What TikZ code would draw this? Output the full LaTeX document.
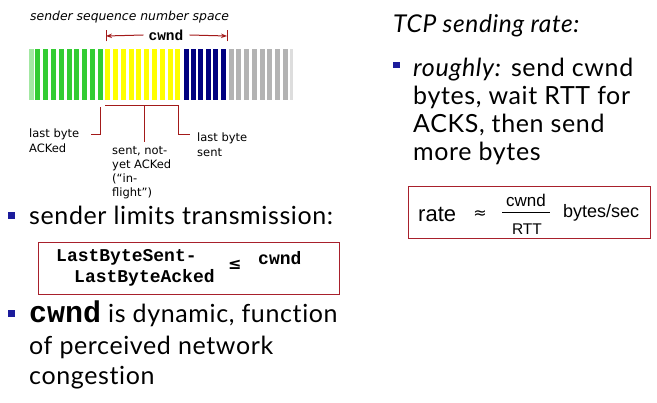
\documentclass[tikz,border=0pt]{standalone}
\usepackage{fontspec}
\usetikzlibrary{arrows.meta}
\setmainfont{Lato}[Ligatures=NoCommon, LetterSpace=2.5]
\newfontfamily\labelfont{DejaVu Sans}
\newfontfamily\codefont{Liberation Mono}
\newfontfamily\arialfont{Liberation Sans}
\definecolor{ackgreen}{HTML}{33CC33}
\definecolor{sentyellow}{HTML}{FFFF00}
\definecolor{usableblue}{HTML}{000080}
\definecolor{unusedgray}{HTML}{B3B3B3}
\definecolor{markred}{HTML}{A31A1A}
\definecolor{boxred}{HTML}{A8202C}
\definecolor{bulletblue}{HTML}{1C1C9C}
\tikzset{
  seqbar/.style={inner sep=0pt, minimum width=5pt, minimum height=51pt, anchor=north west},
  marker/.style={draw=markred, line width=1.6pt},
  thinmarker/.style={draw=markred, line width=1pt},
  smalllabel/.style={inner sep=0pt, anchor=base west, font=\labelfont\fontsize{11.5}{14}\selectfont},
  bigtext/.style={inner sep=0pt, anchor=base west, font=\fontsize{25}{28}\selectfont},
  codetext/.style={inner sep=0pt, anchor=base west, font=\codefont\bfseries\fontsize{18}{21}\selectfont},
  bulletsq/.style={fill=bulletblue, inner sep=0pt, minimum size=7pt, anchor=north west},
  formulabox/.style={draw=boxred, line width=0.9pt},
}
\begin{document}
\begin{tikzpicture}[x=1pt, y=-1pt]
\useasboundingbox (0,0) rectangle (657,403);

% sequence number space: one stripe per byte
\node[seqbar, fill=ackgreen!45] (gfade) at (29,49) {};
\foreach \i in {0,...,8} \node[seqbar, fill=ackgreen] (g\i) at (35+7.84*\i,49) {};
\foreach \i in {0,...,9} \node[seqbar, fill=sentyellow] (y\i) at (105+7.8*\i,49) {};
\foreach \i in {0,...,5} \node[seqbar, fill=usableblue] (b\i) at (183.3+7.48*\i,49) {};
\foreach \i in {0,...,7} \node[seqbar, fill=unusedgray] (u\i) at (228.3+7.77*\i,49) {};
\node[seqbar, fill=unusedgray!45, minimum width=3pt] (ufade) at (290,49) {};

\node[inner sep=0pt, anchor=base west, font=\labelfont\itshape\fontsize{12.4}{14}\selectfont] (title) at (30,21) {sender sequence number space};

% congestion window span
\coordinate (wl) at (106,36);
\coordinate (wr) at (227,36);
\node[inner sep=0pt, font=\codefont\bfseries\fontsize{14.5}{16}\selectfont] (cwndtop) at (166,35) {cwnd};
\draw[thinmarker] ([yshift=-5.5pt]wl) -- ([yshift=5.5pt]wl);
\draw[thinmarker] ([yshift=-5.5pt]wr) -- ([yshift=5.5pt]wr);
\draw[thinmarker, -{Stealth[length=6pt,width=4.5pt]}] (cwndtop.west) ++(-5,0) -- (wl);
\draw[thinmarker, -{Stealth[length=6pt,width=4.5pt]}] (cwndtop.east) ++(6,0) -- (wr);

% in-flight bracket and its labels
\coordinate (fl) at (105,105.5);
\coordinate (fr) at (179,105.5);
\draw[marker] (fl) -- (fr);
\coordinate (ackTop) at (100,107);
\coordinate (ackEnd) at (91,135);
\coordinate (midTop) at (144,106);
\coordinate (midEnd) at (144,142);
\coordinate (sentTop) at (178,106);
\coordinate (sentEnd) at (190,135);
\draw[thinmarker] (ackTop) |- (ackEnd);
\draw[thinmarker] (midTop) -- (midEnd);
\draw[thinmarker] (sentTop) |- (sentEnd);

\node[smalllabel] (ack1) at (29,138) {last byte};
\node[smalllabel] (ack2) at (29,153) {ACKed};
\node[smalllabel] (fly1) at (112,155) {sent, not-};
\node[smalllabel] (fly2) at (112,169) {yet ACKed};
\node[smalllabel] (fly3) at (112,183) {(“in-};
\node[smalllabel] (fly4) at (112,197) {flight”)};
\node[smalllabel] (snt1) at (197,142) {last byte};
\node[smalllabel] (snt2) at (197,157) {sent};

% left bullets
\node[bulletsq] (bul1) at (8,212) {};
\node[bigtext] (lim1) at (29,225) {sender limits transmission:};
\draw[formulabox] (38,242) rectangle (339,294);
\node[codetext] (lbs) at (56,262) {LastByteSent-};
\node[codetext] (lba) at (74,283) {LastByteAcked};
\node[inner sep=0pt, anchor=base west, font=\labelfont\bfseries\fontsize{16}{18}\selectfont] (leq) at (228,270) {≤};
\node[codetext] (cwndbox) at (258,265) {cwnd};

\node[bulletsq] (bul2) at (8,310) {};
\node[bigtext] (dyn1) at (29,323) {{\codefont\bfseries\fontsize{30}{31}\selectfont cwnd} is dynamic, function};
\node[bigtext] (dyn2) at (29,355) {of perceived network};
\node[bigtext] (dyn3) at (29,385) {congestion};

% right column
\node[bigtext, font=\itshape\fontsize{24.5}{28}\selectfont] (rtitle) at (393,33) {TCP sending rate:};
\node[bulletsq, minimum size=6.5pt] (bul3) at (393,61.5) {};
\node[bigtext] (rgh1) at (413,77) {\textit{roughly:} send cwnd};
\node[bigtext] (rgh2) at (413,105) {bytes, wait RTT for};
\node[bigtext] (rgh3) at (413,133) {ACKS, then send};
\node[bigtext] (rgh4) at (413,161) {more bytes};

\draw[formulabox] (408,186) rectangle (650,238);
\node[inner sep=0pt, anchor=base west, font=\arialfont\fontsize{22}{24}\selectfont] (rate) at (418,222) {rate};
\node[inner sep=0pt, font=\labelfont\fontsize{16}{18}\selectfont] (approx) at (480,215) {≈};
\node[inner sep=0pt, anchor=base, font=\arialfont\fontsize{17}{19}\selectfont] (fnum) at (526,207) {cwnd};
\node[inner sep=0pt, anchor=base, font=\arialfont\fontsize{15.5}{17}\selectfont] (fden) at (527,235) {RTT};
\draw[line width=0.8pt] (502,212) -- (550,212);
\node[inner sep=0pt, anchor=base west, font=\arialfont\fontsize{18}{20}\selectfont] (bps) at (563,218) {bytes/sec};
\end{tikzpicture}
\end{document}
